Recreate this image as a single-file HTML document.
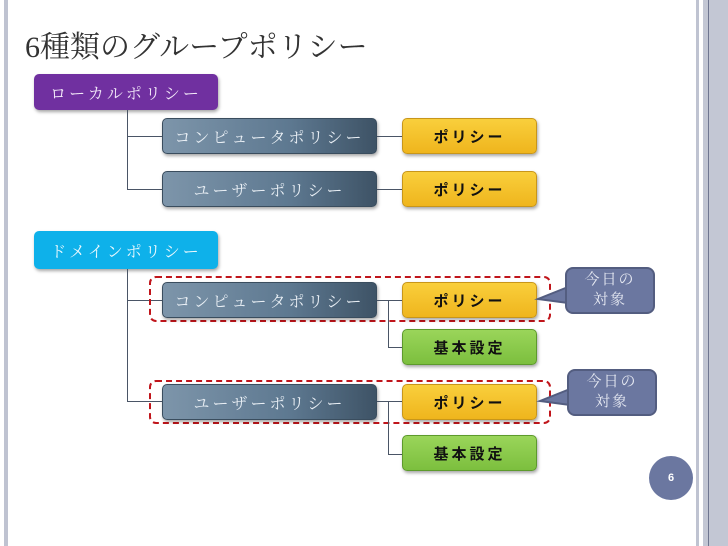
<!DOCTYPE html>
<html><head><meta charset="utf-8"><style>
body{margin:0;width:728px;height:546px;position:relative;background:#fff;overflow:hidden;font-family:"Liberation Serif","Noto Serif CJK SC","Noto Sans CJK JP",serif}
.a{position:absolute}
.b{position:absolute;border-radius:5px;display:flex;align-items:center;justify-content:center;box-shadow:1px 2px 3px rgba(0,0,0,.35);font-size:16px;letter-spacing:3px}
.g{background:linear-gradient(90deg,#7d95aa,#5d7890 60%,#3e5366);color:#e8eef4;border:1px solid #3a4d5e}
.y{background:linear-gradient(#f9cf3c,#efb51d);color:#111;font-weight:bold;border:1px solid #c8961a;font-family:"Noto Sans CJK JP",sans-serif;font-size:15px}
.gr{background:linear-gradient(#9ad55a,#7cbf3e);color:#111;font-weight:bold;border:1px solid #5d9a2c;font-family:"Noto Sans CJK JP",sans-serif;font-size:15px}
.l{position:absolute;background:#4a5566}
.d{position:absolute;border:2px dashed #c0151b;border-radius:7px}
.c{position:absolute;background:#6b77a0;border:2px solid #535d80;border-radius:8px;color:#e6e9f2;font-size:15px;text-align:center;line-height:20px;letter-spacing:2px}
</style></head><body>
<div class="a" style="left:4px;top:0;width:4px;height:546px;background:#bfc3d1"></div>
<div class="a" style="left:696px;top:0;width:3px;height:546px;background:#bfc3d1"></div>
<div class="a" style="left:703px;top:0;width:25px;height:546px;background:#c3c7d4"></div>
<div class="a" style="left:708px;top:0;width:1px;height:546px;background:#6f7690"></div>
<div class="a" style="left:25px;top:22px;font-size:30px;color:#333;white-space:nowrap">6種類のグループポリシー</div>

<div class="b" style="left:34px;top:74px;width:184px;height:36px;background:#7030a0;color:#f2e8f8">ローカルポリシー</div>
<div class="l" style="left:127px;top:110px;width:1px;height:80px"></div>
<div class="l" style="left:127px;top:136px;width:35px;height:1px"></div>
<div class="l" style="left:127px;top:189px;width:35px;height:1px"></div>
<div class="b g" style="left:162px;top:118px;width:213px;height:34px">コンピュータポリシー</div>
<div class="b g" style="left:162px;top:171px;width:213px;height:34px">ユーザーポリシー</div>
<div class="l" style="left:377px;top:136px;width:25px;height:1px"></div>
<div class="l" style="left:377px;top:189px;width:25px;height:1px"></div>
<div class="b y" style="left:402px;top:118px;width:133px;height:34px">ポリシー</div>
<div class="b y" style="left:402px;top:171px;width:133px;height:34px">ポリシー</div>

<div class="b" style="left:34px;top:231px;width:184px;height:38px;background:#0eb1ea;color:#eaf8fd">ドメインポリシー</div>
<div class="l" style="left:127px;top:269px;width:1px;height:132px"></div>
<div class="l" style="left:127px;top:300px;width:35px;height:1px"></div>
<div class="l" style="left:127px;top:401px;width:35px;height:1px"></div>
<div class="d" style="left:149px;top:276px;width:398px;height:42px"></div>
<div class="d" style="left:149px;top:380px;width:398px;height:40px"></div>
<div class="b g" style="left:162px;top:282px;width:213px;height:34px">コンピュータポリシー</div>
<div class="b g" style="left:162px;top:384px;width:213px;height:34px">ユーザーポリシー</div>
<div class="l" style="left:377px;top:300px;width:25px;height:1px"></div>
<div class="l" style="left:388px;top:300px;width:1px;height:47px"></div>
<div class="l" style="left:388px;top:347px;width:14px;height:1px"></div>
<div class="l" style="left:377px;top:401px;width:25px;height:1px"></div>
<div class="l" style="left:388px;top:401px;width:1px;height:53px"></div>
<div class="l" style="left:388px;top:454px;width:14px;height:1px"></div>
<div class="b y" style="left:402px;top:282px;width:133px;height:34px">ポリシー</div>
<div class="b gr" style="left:402px;top:329px;width:133px;height:34px">基本設定</div>
<div class="b y" style="left:402px;top:384px;width:133px;height:34px">ポリシー</div>
<div class="b gr" style="left:402px;top:435px;width:133px;height:34px">基本設定</div>

<svg class="a" style="left:0;top:0" width="728" height="546">
<polygon points="568,287 538,299 568,303" fill="#6b77a0" stroke="#535d80" stroke-width="2"/>
<polygon points="570,389 540,401 570,405" fill="#6b77a0" stroke="#535d80" stroke-width="2"/>
</svg>
<div class="c" style="left:565px;top:267px;width:86px;height:42px;padding-top:1px">今日の<br>対象</div>
<div class="c" style="left:567px;top:369px;width:86px;height:42px;padding-top:1px">今日の<br>対象</div>
<div class="a" style="left:649px;top:456px;width:44px;height:44px;border-radius:50%;background:#6b77a0;color:#fff;font-family:'Liberation Sans',sans-serif;font-size:11px;font-weight:bold;display:flex;align-items:center;justify-content:center">6</div>
</body></html>
